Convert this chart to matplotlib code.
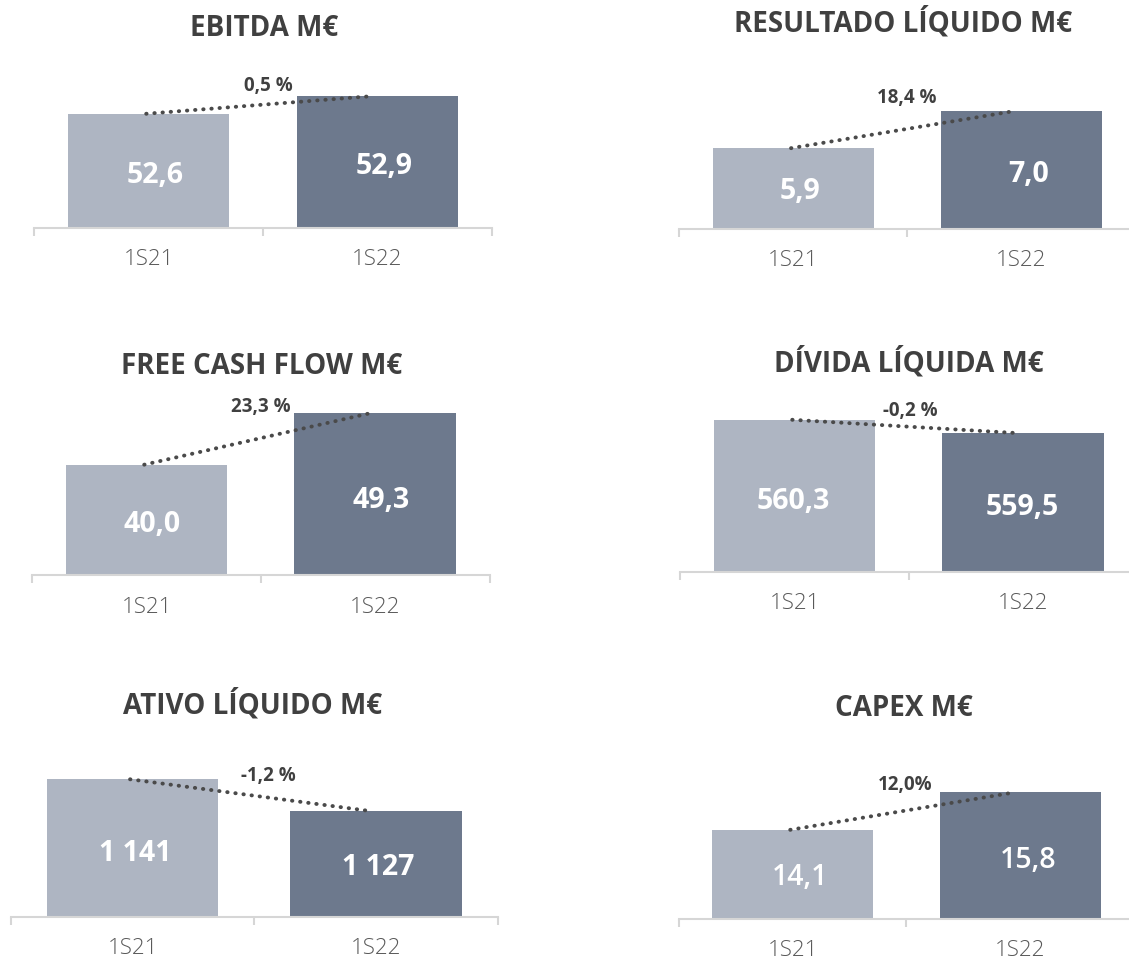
import matplotlib
matplotlib.use("Agg")
import matplotlib.pyplot as plt

# ---------------- data ----------------
categories = ["1S21", "1S22"]

titles = ["EBITDA M€", "RESULTADO LÍQUIDO M€", "FREE CASH FLOW M€",
          "DÍVIDA LÍQUIDA M€", "ATIVO LÍQUIDO M€", "CAPEX M€"]

ebitda = [52.6, 52.9]
resultado = [5.9, 7.0]
fcf = [40.0, 49.3]
divida = [560.3, 559.5]
ativo = [1141, 1127]
capex = [14.1, 15.8]

ebitda_lbl = ["52,6", "52,9"]
resultado_lbl = ["5,9", "7,0"]
fcf_lbl = ["40,0", "49,3"]
divida_lbl = ["560,3", "559,5"]
ativo_lbl = ["1 141", "1 127"]
capex_lbl = ["14,1", "15,8"]

changes = ["0,5 %", "18,4 %", "23,3 %", "-0,2 %", "-1,2 %", "12,0%"]

# ---------------- style / layout ----------------
W, H = 1129, 962
LIGHT = "#AEB5C2"
DARK = "#6D798D"
TXT = "#404040"
AXC = "#D6D6D6"
TICKC = "#595959"
FONT = "Open Sans"

# per panel: center of first bar (px), slot width (px), baseline (px),
# y-axis limits, title pos (px), change-label pos (px), value bold?,
# horizontal offset of value labels (px)
panels = [
    dict(vals=ebitda, lbls=ebitda_lbl, cx=148.5, slot=229, base=228.5,
         ylim=(50.66, 53.73), title=(264, 28), chg=(268, 86), bold=True, dx=6.5),
    dict(vals=resultado, lbls=resultado_lbl, cx=793.3, slot=228, base=229.5,
         ylim=(3.53, 8.84), title=(903, 23), chg=(907, 98), bold=True, dx=7),
    dict(vals=fcf, lbls=fcf_lbl, cx=146.5, slot=228.7, base=576,
         ylim=(20.0, 52.63), title=(262, 367), chg=(261, 407), bold=True, dx=6),
    dict(vals=divida, lbls=divida_lbl, cx=794.5, slot=228.5, base=572.5,
         ylim=(551.18, 562.0), title=(909, 363), chg=(910, 411), bold=True, dx=-1),
    dict(vals=ativo, lbls=ativo_lbl, cx=132.5, slot=243.5, base=917.5,
         ylim=(1080.4, 1159.9), title=(253, 705), chg=(268, 776), bold=True, dx=2.5),
    dict(vals=capex, lbls=capex_lbl, cx=792.5, slot=227.7, base=919.5,
         ylim=(10.07, 18.25), title=(904, 709), chg=(905, 785), bold=False, dx=7.5),
]
AX_H = 180  # px
BAR_W = 0.706

fig = plt.figure(figsize=(W / 100, H / 100), dpi=100)
fig.patch.set_facecolor("white")

for p, title, chg in zip(panels, titles, changes):
    left = p["cx"] - p["slot"] / 2
    width = 2 * p["slot"]
    ax = fig.add_axes([left / W, (H - p["base"]) / H, width / W, AX_H / H])
    ax.set_xlim(-0.5, 1.5)
    ax.set_ylim(*p["ylim"])
    y0 = p["ylim"][0]
    xs = [0, 1]
    ax.bar(xs, [v - y0 for v in p["vals"]], bottom=y0, width=BAR_W,
           color=[LIGHT, DARK], zorder=2)
    # dotted trend line between bar tops
    ax.plot([-0.01, 0.975], p["vals"], linestyle=(0, (0.1, 2.0)), linewidth=2.8,
            color="#4A4A4A", dash_capstyle="round", zorder=3, clip_on=False)
    # value labels
    off = p["dx"] / p["slot"]
    for x, v, s in zip(xs, p["vals"], p["lbls"]):
        ax.text(x + off, y0 + 0.47 * (v - y0), s, ha="center", va="center",
                color="white", fontsize=20.5, family=FONT,
                fontweight="bold" if p["bold"] else "semibold", zorder=4)
    # axis styling
    for side in ["left", "right", "top"]:
        ax.spines[side].set_visible(False)
    ax.spines["bottom"].set_color(AXC)
    ax.spines["bottom"].set_linewidth(1.5)
    ax.set_yticks([])
    ax.set_xticks(xs)
    ax.set_xticklabels(categories, family=FONT, fontsize=16, color=TICKC,
                       fontweight="light")
    ax.tick_params(axis="x", which="major", length=0, pad=15)
    ax.set_xticks([-0.5, 0.5, 1.5], minor=True)
    ax.tick_params(axis="x", which="minor", length=6, width=1.5, color=AXC,
                   direction="out")
    ax.patch.set_alpha(0)

    fig.text(p["title"][0] / W, 1 - p["title"][1] / H, title, ha="center",
             va="center", fontsize=20, fontweight="bold", color=TXT, family=FONT)
    fig.text(p["chg"][0] / W, 1 - p["chg"][1] / H, chg, ha="center",
             va="center", fontsize=13.5, fontweight="bold", color=TXT, family=FONT)

fig.savefig("out.png", dpi=100, facecolor="white")
